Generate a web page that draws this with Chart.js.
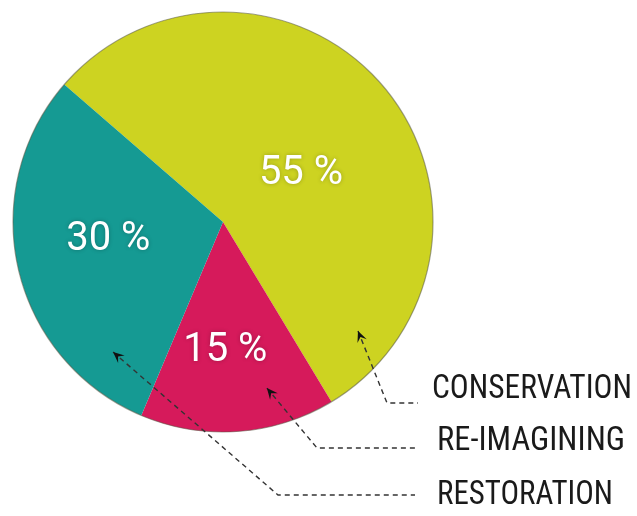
<!DOCTYPE html>
<html>
<head>
<meta charset="utf-8">
<script src="https://cdn.jsdelivr.net/npm/chart.js@4"></script>
<style>
html,body{margin:0;padding:0;background:#fff;}
#wrap{width:637px;height:516px;position:relative;}
</style>
</head>
<body>
<div id="wrap"><canvas id="c" width="637" height="516"></canvas></div>
<script>
const categories = ['CONSERVATION', 'RE-IMAGINING', 'RESTORATION'];
const shares = [55, 15, 30];
const valueLabels = ['55 %', '15 %', '30 %'];
const sliceColors = ['#cdd321', '#d61a5b', '#159a93'];

// annotation layout (not data)
const pctPos = [ {a: 328.4, r: 0.436}, {a: 89, r: 0.615}, {a: 171, r: 0.553} ];
const arrowPos = [ {a: 38.9, r: 0.826}, {a: 75.2, r: 0.818}, {a: 130.2, r: 0.811} ];
const elbows = [ {x: 387, y: 403, ex: 418}, {x: 317, y: 448, ex: 418}, {x: 278, y: 495, ex: 415} ];
const labelPos = [ {x: 432, y: 388, w: 200}, {x: 437, y: 440, w: 188}, {x: 437, y: 494, w: 176} ];

const deg = Math.PI / 180;

const annot = {
  id: 'annot',
  afterDatasetsDraw(chart) {
    const ctx = chart.ctx;
    const arc0 = chart.getDatasetMeta(0).data[0];
    const cx = arc0.x, cy = arc0.y, R = arc0.outerRadius;
    // outline
    ctx.save();
    ctx.beginPath();
    ctx.arc(cx, cy, R, 0, Math.PI * 2);
    ctx.strokeStyle = 'rgba(90,90,70,0.55)';
    ctx.lineWidth = 1.2;
    ctx.stroke();
    ctx.restore();
    // percentage labels
    ctx.save();
    ctx.fillStyle = '#ffffff';
    ctx.font = '400 40px Roboto, "DejaVu Sans", sans-serif';
    ctx.textAlign = 'center';
    ctx.textBaseline = 'middle';
    ctx.shadowColor = 'rgba(0,0,0,0.25)';
    ctx.shadowBlur = 4;
    valueLabels.forEach((t, i) => {
      const p = pctPos[i];
      ctx.fillText(t, cx + Math.cos(p.a * deg) * R * p.r, cy + Math.sin(p.a * deg) * R * p.r);
    });
    ctx.restore();
    // leader lines
    ctx.save();
    ctx.strokeStyle = '#333';
    ctx.fillStyle = '#111';
    ctx.lineWidth = 1.4;
    categories.forEach((c, i) => {
      const p = arrowPos[i];
      const tx = cx + Math.cos(p.a * deg) * R * p.r;
      const ty = cy + Math.sin(p.a * deg) * R * p.r;
      const e = elbows[i];
      ctx.setLineDash([5, 4]);
      ctx.beginPath();
      ctx.moveTo(tx, ty);
      ctx.lineTo(e.x, e.y);
      ctx.lineTo(e.ex, e.y);
      ctx.stroke();
      ctx.setLineDash([]);
      // arrowhead
      const ang = Math.atan2(ty - e.y, tx - e.x);
      const L = 11, W = 5;
      ctx.beginPath();
      ctx.moveTo(tx, ty);
      ctx.lineTo(tx - L * Math.cos(ang) + W * Math.sin(ang), ty - L * Math.sin(ang) - W * Math.cos(ang));
      ctx.lineTo(tx - 0.6 * L * Math.cos(ang), ty - 0.6 * L * Math.sin(ang));
      ctx.lineTo(tx - L * Math.cos(ang) - W * Math.sin(ang), ty - L * Math.sin(ang) + W * Math.cos(ang));
      ctx.closePath();
      ctx.fill();
    });
    ctx.restore();
    // category labels
    ctx.save();
    ctx.fillStyle = '#1a1a1a';
    ctx.font = '400 34px "Roboto Condensed", "Liberation Sans Narrow", "DejaVu Sans Condensed", Roboto, sans-serif';
    ctx.textBaseline = 'middle';
    ctx.textAlign = 'left';
    categories.forEach((c, i) => {
      const lp = labelPos[i];
      const w = ctx.measureText(c).width;
      const sx = lp.w / w;
      ctx.save();
      ctx.translate(lp.x, lp.y + 1);
      ctx.scale(sx, 1);
      ctx.fillText(c, 0, 0);
      ctx.restore();
    });
    ctx.restore();
  }
};

new Chart(document.getElementById('c'), {
  type: 'pie',
  data: {
    labels: categories,
    datasets: [{
      data: shares,
      backgroundColor: sliceColors,
      borderWidth: 0
    }]
  },
  options: {
    responsive: false,
    animation: false,
    rotation: -49.1,
    layout: { padding: { left: 13, top: 12, right: 204, bottom: 84 } },
    plugins: { legend: { display: false }, tooltip: { enabled: false } }
  },
  plugins: [annot]
});
</script>
</body>
</html>
